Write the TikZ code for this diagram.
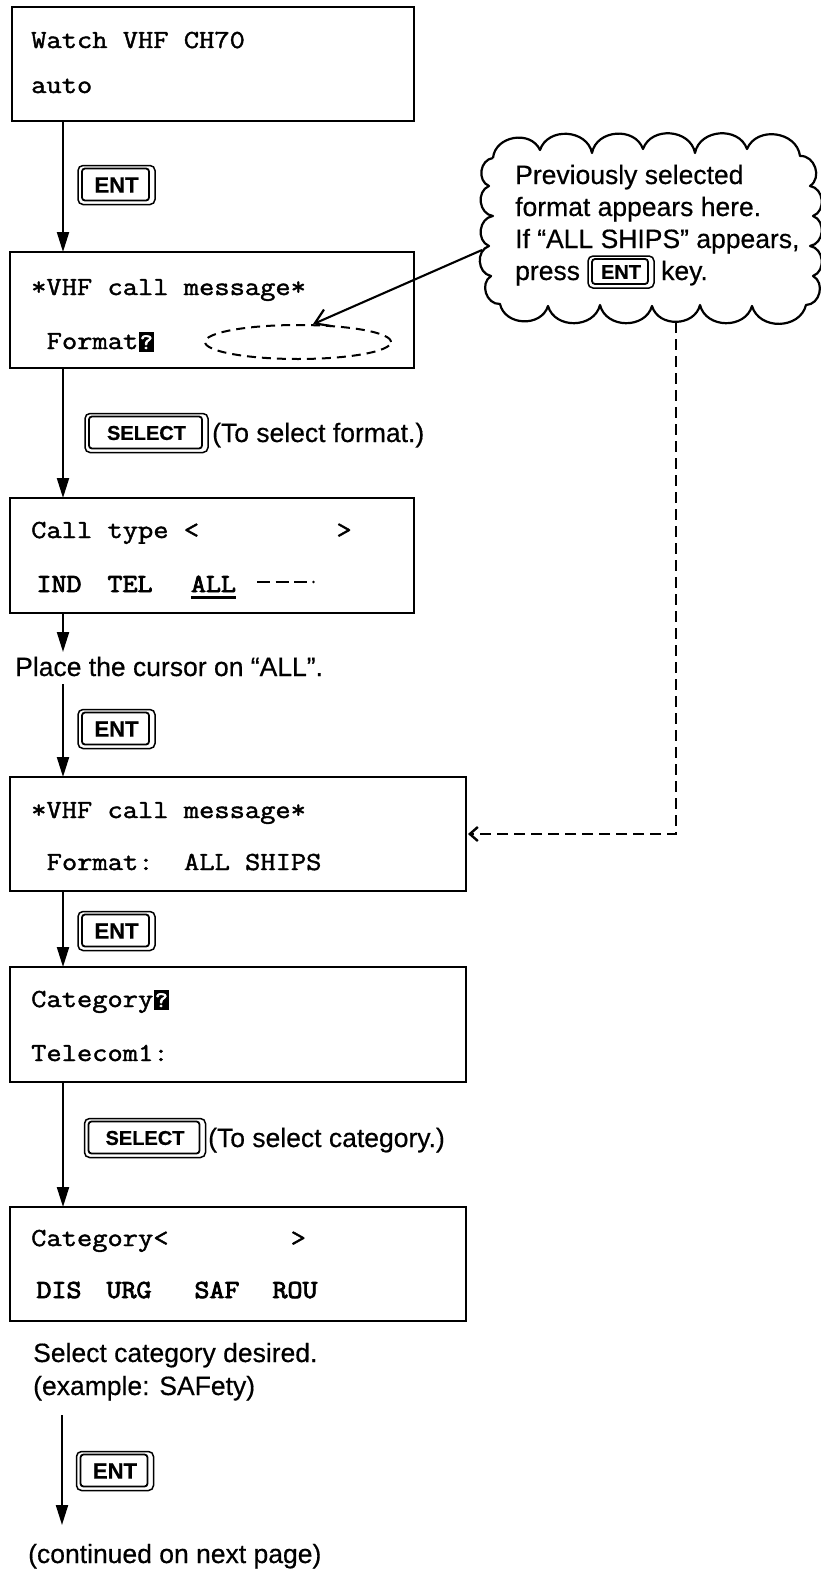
\documentclass[tikz,border=0pt]{standalone}
\usepackage{fontspec}
\setmainfont{Liberation Sans}
\newfontfamily\lcdfont[FakeStretch=1.14,FakeBold=1.6]{Latin Modern Mono}
\newfontfamily\lcdbold[FakeStretch=1.12,FakeBold=3.2]{Latin Modern Mono}
\newfontfamily\notefont[FakeBold=0.5]{Liberation Sans}
\newfontfamily\keyfont[FakeBold=0.6]{Liberation Sans Bold}
\usetikzlibrary{arrows.meta,calc,shapes.geometric}
\tikzset{
  screen/.style={draw, line width=2.3pt, inner sep=0pt, outer sep=0pt, anchor=north west},
  lcd/.style={font=\lcdfont\fontsize{26pt}{30pt}\selectfont, inner sep=0pt, anchor=base west},
  lcdb/.style={font=\lcdbold\fontsize{26pt}{28pt}\selectfont, inner sep=0pt, anchor=base},
  cursorbox/.style={fill=black, text=white, font=\lcdbold\fontsize{22pt}{24pt}\selectfont,
    inner xsep=0pt, inner ysep=3pt, minimum width=15.5pt, anchor=base west},
  note/.style={font=\notefont\fontsize{26.5pt}{31pt}\selectfont, inner sep=0pt, anchor=base west},
  keyout/.style={draw, line width=1.5pt, rounded corners=5pt, inner sep=0pt, outer sep=0pt,
    font=\keyfont\fontsize{22pt}{24pt}\selectfont},
  keyin/.style={draw, line width=1.8pt, rounded corners=3pt},
  flow/.style={line width=2.1pt, -{Triangle[length=20pt,width=12pt]}},
  dashflow/.style={line width=2pt, dash pattern=on 11pt off 6pt,
    -{Straight Barb[length=8pt,width=14pt,line width=2.4pt]}},
  pointer/.style={line width=2.1pt, -{Straight Barb[length=14pt,width=18pt,line width=2.2pt]}},
  puff/.style={bend left=75, looseness=1.2},
}
\newcommand\keyface[1]{\draw[keyin] ($(#1.south west)+(4,-4)$) rectangle ($(#1.north east)+(-6,3)$);}
\begin{document}
\begin{tikzpicture}[x=1pt, y=-1pt]
\useasboundingbox (0,0) rectangle (821,1571);

% ---------- screens ----------
\node[screen, minimum width=402pt, minimum height=114pt] (box1) at (12,7) {};
\node[screen, minimum width=404pt, minimum height=116pt] (box2) at (10,252) {};
\node[screen, minimum width=404pt, minimum height=115pt] (box3) at (10,498) {};
\node[screen, minimum width=456pt, minimum height=114pt] (box4) at (10,777) {};
\node[screen, minimum width=456pt, minimum height=115pt] (box5) at (10,967) {};
\node[screen, minimum width=456pt, minimum height=114pt] (box6) at (10,1207) {};

% screen texts
\node[lcd] (t1a) at (31,48) {Watch VHF CH70};
\node[lcd] (t1b) at (31,93) {auto};

\node[lcd] (t2a) at (31,295) {*VHF call message*};
\node[lcd] (t2b) at (46.5,349) {Format};
\node[cursorbox] (cur1) at (t2b.base east) {?};
\node[ellipse, draw, line width=2pt, dash pattern=on 9pt off 6pt, minimum width=186pt,
      minimum height=34pt, inner sep=0pt] (ell) at (298,342) {};

\node[lcd] (t3a) at (31,538) {Call type <~~~~~~~~~>};
\node[lcdb] (ind) at (59,592) {IND};
\node[lcdb] (tel) at (130,592) {TEL};
\node[lcdb] (all) at (213.5,592) {ALL};
\draw[line width=2.2pt] ($(all.base west)+(0,5.5)$) -- ($(all.base east)+(0,5.5)$);
\draw[line width=2.2pt, dash pattern=on 13pt off 5.5pt] (257,582) -- (308,582);
\fill (313.5,582) circle (1.3pt);

\node[lcd] (t4a) at (31,818) {*VHF call message*};
\node[lcd] (t4b) at (46.5,870) {Format:~~ALL SHIPS};

\node[lcd] (t5a) at (31,1007) {Category};
\node[cursorbox] (cur2) at (t5a.base east) {?};
\node[lcd] (t5b) at (31,1061) {Telecom1:};

\node[lcd] (t6a) at (31,1246) {Category<~~~~~~~~>};
\node[lcdb] (dis) at (59,1298) {DIS};
\node[lcdb] (urg) at (129,1298) {URG};
\node[lcdb] (saf) at (217,1298) {SAF};
\node[lcdb] (rou) at (295,1298) {ROU};

% ---------- keys ----------
\node[keyout, minimum width=77pt, minimum height=39pt] (ent1) at (116.5,185) {ENT};
\keyface{ent1}
\node[keyout, minimum width=123pt, minimum height=39pt, font=\keyfont\fontsize{20pt}{22pt}\selectfont] (sel1) at (146.5,433) {SELECT};
\keyface{sel1}
\node[keyout, minimum width=77pt, minimum height=39pt] (ent4) at (116.5,729) {ENT};
\keyface{ent4}
\node[keyout, minimum width=77pt, minimum height=39pt] (ent5) at (116.5,931) {ENT};
\keyface{ent5}
\node[keyout, minimum width=121pt, minimum height=39pt, font=\keyfont\fontsize{20pt}{22pt}\selectfont] (sel2) at (145,1138) {SELECT};
\keyface{sel2}
\node[keyout, minimum width=77pt, minimum height=39pt] (ent7) at (115,1471) {ENT};
\keyface{ent7}

% ---------- notes ----------
\node[note] (n1) at (212,442) {(To select format.)};
\node[note] (n2) at (15,676) {Place the cursor on “ALL”.};
\node[note] (n3) at (208,1147) {(To select category.)};
\node[note] (n4) at (33,1362) {Select category desired.};
\node[note] (n5) at (33,1395) {(example: SAFety)};
\node[note] (n6) at (28,1563) {(continued on next page)};

% ---------- cloud ----------
\draw[line width=2.2pt, line join=round]
  (493,158) to[puff] (540,150) to[puff] (592,153) to[puff] (643,149) to[puff] (695,153)
  to[puff] (747,149) to[puff] (800,156)
  to[puff] (810,186) to[puff] (813,216) to[puff] (810,246) to[puff] (813,276) to[puff] (806,305)
  to[puff] (752,306) to[puff] (700,305) to[puff] (652,306) to[puff] (600,305) to[puff] (548,306)
  to[puff] (500,304)
  to[puff] (491,276) to[puff] (489,246) to[puff] (493,216) to[puff] (489,186) to[puff] (493,158);
\node[note] (c1) at (515,184) {Previously selected};
\node[note] (c2) at (515,216) {format appears here.};
\node[note] (c3) at (515,248) {If “ALL SHIPS” appears,};
\node[note] (c4) at (515,280) {press};
\node[keyout, minimum width=66pt, minimum height=32pt, font=\keyfont\fontsize{20pt}{22pt}\selectfont] (entc) at (621,272) {ENT};
\keyface{entc}
\node[note] (c5) at (661,280) {key.};

% ---------- connectors ----------
\coordinate (xa) at (63,0);
\draw[flow] (box1.south -| xa) -- (box2.north -| xa);
\draw[flow] (box2.south -| xa) -- (box3.north -| xa);
\coordinate (a3end) at (63,652);
\draw[flow] (box3.south -| xa) -- (a3end);
\coordinate (a4start) at (63,684);
\draw[flow] (a4start) -- (box4.north -| xa);
\draw[flow] (box4.south -| xa) -- (box5.north -| xa);
\draw[flow] (box5.south -| xa) -- (box6.north -| xa);
\coordinate (a7start) at (62,1415);
\coordinate (a7end) at (62,1525);
\draw[flow] (a7start) -- (a7end);

\coordinate (cl) at (482,250);
\draw[pointer] (cl) -- (ell.50);
\coordinate (cb) at (676,322);
\draw[dashflow, shorten >=2pt] (cb) |- (box4.east);
\end{tikzpicture}
\end{document}
